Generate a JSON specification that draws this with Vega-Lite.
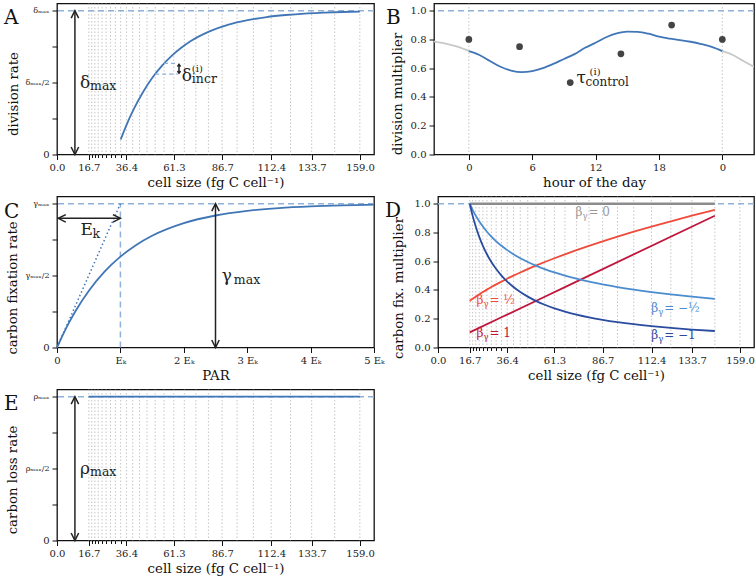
{
"$schema": "https://vega.github.io/schema/vega-lite/v6.json",
"padding": {"left": 3, "top": 1.5, "right": 2, "bottom": 1},
"background": "white",
"config": {
  "font": "DejaVu Serif",
  "view": {"stroke": "#111", "strokeWidth": 1.3},
  "axis": {"domain": false, "grid": false, "labelFlush": false, "tickColor": "#111", "tickSize": 5, "tickWidth": 1, "labelFont": "DejaVu Serif", "labelFontSize": 10, "labelColor": "#222", "labelPadding": 3, "titleFont": "DejaVu Serif", "titleFontSize": 13.3, "titleFontWeight": "normal", "titleColor": "#111", "titlePadding": 3},
  "text": {"font": "DejaVu Serif"}
},
"datasets": {
  "grid": [{"x":16.7},{"x":18.21},{"x":19.86},{"x":21.66},{"x":23.62},{"x":25.75},{"x":28.09},{"x":30.63},{"x":33.4},{"x":36.42},{"x":39.72},{"x":43.31},{"x":47.23},{"x":51.51},{"x":56.17},{"x":61.26},{"x":66.8},{"x":72.85},{"x":79.44},{"x":86.63},{"x":94.47},{"x":103.02},{"x":112.34},{"x":122.51},{"x":133.6},{"x":145.69},{"x":158.88}],
  "divrate": [{"x":33.4,"y":0.104},{"x":36,"y":0.191},{"x":40,"y":0.308},{"x":45,"y":0.431},{"x":50,"y":0.533},{"x":55,"y":0.616},{"x":60,"y":0.684},{"x":65,"y":0.74},{"x":70,"y":0.787},{"x":80,"y":0.856},{"x":90,"y":0.903},{"x":100,"y":0.934},{"x":110,"y":0.956},{"x":120,"y":0.97},{"x":130,"y":0.98},{"x":140,"y":0.986},{"x":150,"y":0.991},{"x":158.88,"y":0.994}],
  "bline": [{"x":0,"y":0.719},{"x":1,"y":0.692},{"x":2,"y":0.65},{"x":3,"y":0.61},{"x":4,"y":0.584},{"x":5,"y":0.573},{"x":6,"y":0.58},{"x":7,"y":0.6},{"x":8,"y":0.63},{"x":9,"y":0.664},{"x":10,"y":0.698},{"x":11,"y":0.742},{"x":12,"y":0.777},{"x":13,"y":0.815},{"x":14,"y":0.842},{"x":15,"y":0.855},{"x":16,"y":0.853},{"x":17,"y":0.84},{"x":18,"y":0.819},{"x":19,"y":0.806},{"x":20,"y":0.796},{"x":21,"y":0.784},{"x":22,"y":0.768},{"x":23,"y":0.748},{"x":24,"y":0.719}],
  "bgray": [{"x":-3.5,"y":0.789,"seg":"a"},{"x":-3,"y":0.782,"seg":"a"},{"x":-2,"y":0.768,"seg":"a"},{"x":-1,"y":0.748,"seg":"a"},{"x":0,"y":0.719,"seg":"a"},{"x":24,"y":0.719,"seg":"b"},{"x":25,"y":0.692,"seg":"b"},{"x":26,"y":0.65,"seg":"b"},{"x":27,"y":0.61,"seg":"b"},{"x":27.3,"y":0.6,"seg":"b"}],
  "bpts": [{"x":0,"y":0.8},{"x":4.8,"y":0.75},{"x":9.6,"y":0.5},{"x":14.4,"y":0.7},{"x":19.2,"y":0.9},{"x":24,"y":0.8}],
  "ccurve": [{"x":0,"y":0},{"x":0.1,"y":0.0952},{"x":0.2,"y":0.1813},{"x":0.3,"y":0.2592},{"x":0.5,"y":0.3935},{"x":0.75,"y":0.5276},{"x":1,"y":0.6321},{"x":1.25,"y":0.7135},{"x":1.5,"y":0.7769},{"x":2,"y":0.8647},{"x":2.5,"y":0.9179},{"x":3,"y":0.9502},{"x":3.5,"y":0.9698},{"x":4,"y":0.9817},{"x":4.5,"y":0.9889},{"x":5,"y":0.9933}],
  "betas": [
    {"s":"1","x":16.7,"y":0.105},{"s":"1","x":33.4,"y":0.2101},{"s":"1","x":66.8,"y":0.4201},{"s":"1","x":145.69,"y":0.9163},
    {"s":"0.5","x":16.7,"y":0.324},{"s":"0.5","x":18.21,"y":0.3383},{"s":"0.5","x":19.86,"y":0.3533},{"s":"0.5","x":21.66,"y":0.369},{"s":"0.5","x":23.62,"y":0.3853},{"s":"0.5","x":25.75,"y":0.4024},{"s":"0.5","x":28.09,"y":0.4202},{"s":"0.5","x":30.63,"y":0.4388},{"s":"0.5","x":33.4,"y":0.4582},{"s":"0.5","x":36.42,"y":0.4785},{"s":"0.5","x":39.72,"y":0.4997},{"s":"0.5","x":43.31,"y":0.5219},{"s":"0.5","x":47.23,"y":0.545},{"s":"0.5","x":51.51,"y":0.5691},{"s":"0.5","x":56.17,"y":0.5943},{"s":"0.5","x":61.26,"y":0.6207},{"s":"0.5","x":66.8,"y":0.6482},{"s":"0.5","x":72.85,"y":0.6769},{"s":"0.5","x":79.44,"y":0.7068},{"s":"0.5","x":86.63,"y":0.7381},{"s":"0.5","x":94.47,"y":0.7708},{"s":"0.5","x":103.02,"y":0.805},{"s":"0.5","x":112.34,"y":0.8406},{"s":"0.5","x":122.51,"y":0.8778},{"s":"0.5","x":133.6,"y":0.9167},{"s":"0.5","x":145.69,"y":0.9573},
    {"s":"-0.5","x":16.7,"y":1},{"s":"-0.5","x":18.21,"y":0.9576},{"s":"-0.5","x":19.86,"y":0.917},{"s":"-0.5","x":21.66,"y":0.8781},{"s":"-0.5","x":23.62,"y":0.8409},{"s":"-0.5","x":25.75,"y":0.8052},{"s":"-0.5","x":28.09,"y":0.7711},{"s":"-0.5","x":30.63,"y":0.7384},{"s":"-0.5","x":33.4,"y":0.7071},{"s":"-0.5","x":36.42,"y":0.6771},{"s":"-0.5","x":39.72,"y":0.6484},{"s":"-0.5","x":43.31,"y":0.6209},{"s":"-0.5","x":47.23,"y":0.5946},{"s":"-0.5","x":51.51,"y":0.5694},{"s":"-0.5","x":56.17,"y":0.5453},{"s":"-0.5","x":61.26,"y":0.5221},{"s":"-0.5","x":66.8,"y":0.5},{"s":"-0.5","x":72.85,"y":0.4788},{"s":"-0.5","x":79.44,"y":0.4585},{"s":"-0.5","x":86.63,"y":0.4391},{"s":"-0.5","x":94.47,"y":0.4204},{"s":"-0.5","x":103.02,"y":0.4026},{"s":"-0.5","x":112.34,"y":0.3855},{"s":"-0.5","x":122.51,"y":0.3692},{"s":"-0.5","x":133.6,"y":0.3536},{"s":"-0.5","x":145.69,"y":0.3386},
    {"s":"-1","x":16.7,"y":1},{"s":"-1","x":18.21,"y":0.917},{"s":"-1","x":19.86,"y":0.8409},{"s":"-1","x":21.66,"y":0.7711},{"s":"-1","x":23.62,"y":0.7071},{"s":"-1","x":25.75,"y":0.6484},{"s":"-1","x":28.09,"y":0.5946},{"s":"-1","x":30.63,"y":0.5453},{"s":"-1","x":33.4,"y":0.5},{"s":"-1","x":36.42,"y":0.4585},{"s":"-1","x":39.72,"y":0.4204},{"s":"-1","x":43.31,"y":0.3855},{"s":"-1","x":47.23,"y":0.3536},{"s":"-1","x":51.51,"y":0.3242},{"s":"-1","x":56.17,"y":0.2973},{"s":"-1","x":61.26,"y":0.2726},{"s":"-1","x":66.8,"y":0.25},{"s":"-1","x":72.85,"y":0.2293},{"s":"-1","x":79.44,"y":0.2102},{"s":"-1","x":86.63,"y":0.1928},{"s":"-1","x":94.47,"y":0.1768},{"s":"-1","x":103.02,"y":0.1621},{"s":"-1","x":112.34,"y":0.1487},{"s":"-1","x":122.51,"y":0.1363},{"s":"-1","x":133.6,"y":0.125},{"s":"-1","x":145.69,"y":0.1146}
  ],
  "blabels": [{"x":72.3,"y":0.915,"s":"0","r":"= 0"},{"x":20.2,"y":0.3,"s":"0.5","r":"= ½"},{"x":20.2,"y":0.07,"s":"1","r":"= 1"},{"x":112.2,"y":0.25,"s":"-0.5","r":"= −½"},{"x":112.2,"y":0.058,"s":"-1","r":"= −1"}]
},
"spacing": 5,
"vconcat": [
{"hconcat": [
 {"width": 317, "height": 151,
  "title": {"text": "A", "anchor": "start", "frame": "group", "dx": -53, "offset": -25, "baseline": "top", "fontSize": 20, "fontWeight": "normal", "color": "#111"},
  "layer": [
   {"data": {"name": "grid"}, "mark": {"type": "rule", "color": "#b8b8b8", "strokeWidth": 0.8, "strokeDash": [1.5, 2]},
    "encoding": {"x": {"field": "x", "type": "quantitative", "scale": {"domain": [0, 166.3], "nice": false, "zero": false},
      "axis": {"title": "cell size (fg C cell⁻¹)", "tickCount": 60, "values": [0,16.7,18.21,19.86,21.66,23.62,25.75,28.09,30.63,33.4,36.4,61.3,86.7,112.4,133.7,159], "labelExpr": "datum.value > 17 && datum.value < 34 ? '' : format(datum.value, '.1f')", "labelOverlap": false, "tickSize": {"condition": {"test": "datum.value > 17 && datum.value < 34", "value": 3}, "value": 5}}}}},
   {"data": {"values": [{"y": 1}]}, "mark": {"type": "rule", "color": "#8fb1da", "strokeWidth": 1.5, "strokeDash": [6, 4]},
    "encoding": {"y": {"field": "y", "type": "quantitative", "scale": {"domain": [0, 1.05], "nice": false},
      "axis": {"title": "division rate", "tickCount": 60, "labelOverlap": false, "values": [0, 0.25, 0.5, 0.75, 1], "labelExpr": "datum.value == 1 ? 'δₘₐₓ' : datum.value == 0.5 ? 'δₘₐₓ/2' : datum.value == 0 ? '0' : ''", "labelFontSize": {"condition": {"test": "datum.value == 0", "value": 10}, "value": 8}, "titleX": -44, "titleY": 90, "titleBaseline": "middle", "titleAlign": "center", "titleAngle": -90}}}},
   {"data": {"name": "divrate"}, "mark": {"type": "line", "color": "#4176b6", "strokeWidth": 1.8, "interpolate": "monotone"},
    "encoding": {"x": {"field": "x", "type": "quantitative"}, "y": {"field": "y", "type": "quantitative"}}},
   {"data": {"values": [{"x": 51.51, "y": 0.559, "x2": 63.3}, {"x": 56.17, "y": 0.633, "x2": 63.3}]}, "mark": {"type": "rule", "color": "#8fb1da", "strokeWidth": 1.3, "strokeDash": [4, 3]},
    "encoding": {"x": {"field": "x", "type": "quantitative"}, "x2": {"field": "x2"}, "y": {"field": "y", "type": "quantitative"}}},
   {"data": {"values": [{"x": 9.4, "y": 0, "y2": 1}, {"x": 64, "y": 0.567, "y2": 0.625}]}, "mark": {"type": "rule", "color": "#222", "strokeWidth": 1.5},
    "encoding": {"x": {"field": "x", "type": "quantitative"}, "y": {"field": "y", "type": "quantitative"}, "y2": {"field": "y2"}}},
   {"data": {"values": [{"x": 9.4, "y": 1}]}, "mark": {"type": "point", "shape": "M-0.5,1L0,0L0.5,1", "size": 225, "filled": false, "color": "#222", "strokeWidth": 1.5, "opacity": 1},
    "encoding": {"x": {"field": "x", "type": "quantitative"}, "y": {"field": "y", "type": "quantitative"}}},
   {"data": {"values": [{"x": 9.4, "y": 0}]}, "mark": {"type": "point", "shape": "M-0.5,-1L0,0L0.5,-1", "size": 225, "filled": false, "color": "#222", "strokeWidth": 1.5, "opacity": 1},
    "encoding": {"x": {"field": "x", "type": "quantitative"}, "y": {"field": "y", "type": "quantitative"}}},
   {"data": {"values": [{"x": 64, "y": 0.627}]}, "mark": {"type": "point", "shape": "M-0.7,1L0,0L0.7,1", "size": 20, "filled": false, "color": "#222", "strokeWidth": 1.5, "opacity": 1},
    "encoding": {"x": {"field": "x", "type": "quantitative"}, "y": {"field": "y", "type": "quantitative"}}},
   {"data": {"values": [{"x": 64, "y": 0.565}]}, "mark": {"type": "point", "shape": "M-0.7,-1L0,0L0.7,-1", "size": 20, "filled": false, "color": "#222", "strokeWidth": 1.5, "opacity": 1},
    "encoding": {"x": {"field": "x", "type": "quantitative"}, "y": {"field": "y", "type": "quantitative"}}},
   {"data": {"values": [{"x": 12.1, "y": 0.46, "t": "δ"}, {"x": 65.5, "y": 0.508, "t": "δ"}]}, "mark": {"type": "text", "align": "left", "baseline": "alphabetic", "fontSize": 17, "color": "#222"},
    "encoding": {"x": {"field": "x", "type": "quantitative"}, "y": {"field": "y", "type": "quantitative"}, "text": {"field": "t"}}},
   {"data": {"values": [{"x": 12.1, "y": 0.46, "t": "max"}, {"x": 65.5, "y": 0.508, "t": "incr"}]}, "mark": {"type": "text", "align": "left", "baseline": "alphabetic", "fontSize": 12.5, "dx": 10, "dy": 2, "color": "#222"},
    "encoding": {"x": {"field": "x", "type": "quantitative"}, "y": {"field": "y", "type": "quantitative"}, "text": {"field": "t"}}},
   {"data": {"values": [{"x": 65.5, "y": 0.508, "t": "(i)"}]}, "mark": {"type": "text", "align": "left", "baseline": "alphabetic", "fontSize": 10, "dx": 10, "dy": -9, "color": "#222"},
    "encoding": {"x": {"field": "x", "type": "quantitative"}, "y": {"field": "y", "type": "quantitative"}, "text": {"field": "t"}}}
  ]},
 {"width": 320, "height": 151,
  "title": {"text": "B", "anchor": "start", "frame": "group", "dx": -48, "offset": -25, "baseline": "top", "fontSize": 20, "fontWeight": "normal", "color": "#111"},
  "layer": [
   {"data": {"values": [{"x": 0}, {"x": 24}]}, "mark": {"type": "rule", "color": "#b8b8b8", "strokeWidth": 0.8, "strokeDash": [1.5, 2]},
    "encoding": {"x": {"field": "x", "type": "quantitative", "scale": {"domain": [-3.3, 27], "nice": false, "zero": false},
      "axis": {"title": "hour of the day", "tickCount": 60, "labelOverlap": false, "values": [0, 6, 12, 18, 24], "format": "d", "labelExpr": "datum.value == 24 ? '0' : format(datum.value, 'd')"}}}},
   {"data": {"values": [{"y": 1}]}, "mark": {"type": "rule", "color": "#8fb1da", "strokeWidth": 1.5, "strokeDash": [6, 4]},
    "encoding": {"y": {"field": "y", "type": "quantitative", "scale": {"domain": [0, 1.05], "nice": false},
      "axis": {"title": "division multiplier", "tickCount": 60, "labelOverlap": false, "values": [0, 0.2, 0.4, 0.6, 0.8, 1], "format": ".1f", "titleX": -37, "titleY": 90, "titleBaseline": "middle", "titleAlign": "center", "titleAngle": -90}}}},
   {"data": {"name": "bgray"}, "mark": {"type": "line", "color": "#c8c8c8", "strokeWidth": 1.8, "interpolate": "monotone", "clip": true},
    "encoding": {"x": {"field": "x", "type": "quantitative"}, "y": {"field": "y", "type": "quantitative"}, "detail": {"field": "seg"}}},
   {"data": {"name": "bline"}, "mark": {"type": "line", "color": "#4176b6", "strokeWidth": 1.8, "interpolate": "monotone"},
    "encoding": {"x": {"field": "x", "type": "quantitative"}, "y": {"field": "y", "type": "quantitative"}}},
   {"data": {"name": "bpts"}, "mark": {"type": "point", "filled": true, "color": "#444", "size": 45, "opacity": 1},
    "encoding": {"x": {"field": "x", "type": "quantitative"}, "y": {"field": "y", "type": "quantitative"}}},
   {"data": {"values": [{"x": 10.2, "y": 0.495, "t": "τ"}]}, "mark": {"type": "text", "align": "left", "baseline": "alphabetic", "fontSize": 17, "color": "#222"},
    "encoding": {"x": {"field": "x", "type": "quantitative"}, "y": {"field": "y", "type": "quantitative"}, "text": {"field": "t"}}},
   {"data": {"values": [{"x": 10.2, "y": 0.495, "t": "control"}]}, "mark": {"type": "text", "align": "left", "baseline": "alphabetic", "fontSize": 12, "dx": 9, "dy": 3, "color": "#222"},
    "encoding": {"x": {"field": "x", "type": "quantitative"}, "y": {"field": "y", "type": "quantitative"}, "text": {"field": "t"}}},
   {"data": {"values": [{"x": 10.2, "y": 0.495, "t": "(i)"}]}, "mark": {"type": "text", "align": "left", "baseline": "alphabetic", "fontSize": 10, "dx": 13, "dy": -8, "color": "#222"},
    "encoding": {"x": {"field": "x", "type": "quantitative"}, "y": {"field": "y", "type": "quantitative"}, "text": {"field": "t"}}}
  ]}
 ], "spacing": 60, "bounds": "flush"},
{"hconcat": [
 {"width": 317, "height": 151,
  "title": {"text": "C", "anchor": "start", "frame": "group", "dx": -53, "offset": -25, "baseline": "top", "fontSize": 20, "fontWeight": "normal", "color": "#111"},
  "layer": [
   {"data": {"values": [{"x": 1, "y": 0, "y2": 1}]}, "mark": {"type": "rule", "color": "#8fb1da", "strokeWidth": 1.5, "strokeDash": [6, 4]},
    "encoding": {"x": {"field": "x", "type": "quantitative", "scale": {"domain": [0, 5], "nice": false, "zero": false},
      "axis": {"title": "PAR", "tickCount": 60, "labelOverlap": false, "values": [0, 1, 2, 3, 4, 5], "labelExpr": "datum.value == 0 ? '0' : datum.value == 1 ? 'Eₖ' : datum.value + ' Eₖ'"}},
      "y": {"field": "y", "type": "quantitative", "scale": {"domain": [0, 1.05], "nice": false},
      "axis": {"title": "carbon fixation rate", "tickCount": 60, "labelOverlap": false, "values": [0, 0.25, 0.5, 0.75, 1], "labelExpr": "datum.value == 1 ? 'γₘₐₓ' : datum.value == 0.5 ? 'γₘₐₓ/2' : datum.value == 0 ? '0' : ''", "labelFontSize": {"condition": {"test": "datum.value == 0", "value": 10}, "value": 8}, "titleX": -45, "titleY": 91, "titleBaseline": "middle", "titleAlign": "center", "titleAngle": -90}},
      "y2": {"field": "y2"}}},
   {"data": {"values": [{"y": 1}]}, "mark": {"type": "rule", "color": "#8fb1da", "strokeWidth": 1.5, "strokeDash": [6, 4]},
    "encoding": {"y": {"field": "y", "type": "quantitative"}}},
   {"data": {"values": [{"x": 0, "y": 0}, {"x": 1, "y": 1}]}, "mark": {"type": "line", "color": "#4176b6", "strokeWidth": 1.5, "strokeDash": [1.5, 2.5]},
    "encoding": {"x": {"field": "x", "type": "quantitative"}, "y": {"field": "y", "type": "quantitative"}}},
   {"data": {"name": "ccurve"}, "mark": {"type": "line", "color": "#4176b6", "strokeWidth": 1.8, "interpolate": "monotone"},
    "encoding": {"x": {"field": "x", "type": "quantitative"}, "y": {"field": "y", "type": "quantitative"}}},
   {"data": {"values": [{"x": 0.02, "x2": 1, "y": 0.898}]}, "mark": {"type": "rule", "color": "#222", "strokeWidth": 1.5},
    "encoding": {"x": {"field": "x", "type": "quantitative"}, "x2": {"field": "x2"}, "y": {"field": "y", "type": "quantitative"}}},
   {"data": {"values": [{"x": 2.5, "y": 0, "y2": 1}]}, "mark": {"type": "rule", "color": "#222", "strokeWidth": 1.5},
    "encoding": {"x": {"field": "x", "type": "quantitative"}, "y": {"field": "y", "type": "quantitative"}, "y2": {"field": "y2"}}},
   {"data": {"values": [{"x": 0.02, "y": 0.898}]}, "mark": {"type": "point", "shape": "M1,-0.5L0,0L1,0.5", "size": 225, "filled": false, "color": "#222", "strokeWidth": 1.5, "opacity": 1},
    "encoding": {"x": {"field": "x", "type": "quantitative"}, "y": {"field": "y", "type": "quantitative"}}},
   {"data": {"values": [{"x": 1, "y": 0.898}]}, "mark": {"type": "point", "shape": "M-1,-0.5L0,0L-1,0.5", "size": 225, "filled": false, "color": "#222", "strokeWidth": 1.5, "opacity": 1},
    "encoding": {"x": {"field": "x", "type": "quantitative"}, "y": {"field": "y", "type": "quantitative"}}},
   {"data": {"values": [{"x": 2.5, "y": 1}]}, "mark": {"type": "point", "shape": "M-0.5,1L0,0L0.5,1", "size": 225, "filled": false, "color": "#222", "strokeWidth": 1.5, "opacity": 1},
    "encoding": {"x": {"field": "x", "type": "quantitative"}, "y": {"field": "y", "type": "quantitative"}}},
   {"data": {"values": [{"x": 2.5, "y": 0}]}, "mark": {"type": "point", "shape": "M-0.5,-1L0,0L0.5,-1", "size": 225, "filled": false, "color": "#222", "strokeWidth": 1.5, "opacity": 1},
    "encoding": {"x": {"field": "x", "type": "quantitative"}, "y": {"field": "y", "type": "quantitative"}}},
   {"data": {"values": [{"x": 0.37, "y": 0.785, "t": "E"}, {"x": 2.6, "y": 0.46, "t": "γ"}]}, "mark": {"type": "text", "align": "left", "baseline": "alphabetic", "fontSize": 17, "color": "#222"},
    "encoding": {"x": {"field": "x", "type": "quantitative"}, "y": {"field": "y", "type": "quantitative"}, "text": {"field": "t"}}},
   {"data": {"values": [{"x": 0.37, "y": 0.785, "t": "k"}, {"x": 2.6, "y": 0.46, "t": "max"}]}, "mark": {"type": "text", "align": "left", "baseline": "alphabetic", "fontSize": 12.5, "dx": 12, "dy": 3, "color": "#222"},
    "encoding": {"x": {"field": "x", "type": "quantitative"}, "y": {"field": "y", "type": "quantitative"}, "text": {"field": "t"}}}
  ]},
 {"width": 316, "height": 151,
  "title": {"text": "D", "anchor": "start", "frame": "group", "dx": -53, "offset": -25, "baseline": "top", "fontSize": 20, "fontWeight": "normal", "color": "#111"},
  "layer": [
   {"data": {"name": "grid"}, "mark": {"type": "rule", "color": "#b8b8b8", "strokeWidth": 0.8, "strokeDash": [1.5, 2]},
    "encoding": {"x": {"field": "x", "type": "quantitative", "scale": {"domain": [0, 166.3], "nice": false, "zero": false},
      "axis": {"title": "cell size (fg C cell⁻¹)", "tickCount": 60, "values": [0,16.7,18.21,19.86,21.66,23.62,25.75,28.09,30.63,33.4,36.4,61.3,86.7,112.4,133.7,159], "labelExpr": "datum.value > 17 && datum.value < 34 ? '' : format(datum.value, '.1f')", "labelOverlap": false, "tickSize": {"condition": {"test": "datum.value > 17 && datum.value < 34", "value": 3}, "value": 5}}}}},
   {"data": {"values": [{"y": 1}]}, "mark": {"type": "rule", "color": "#8fb1da", "strokeWidth": 1.5, "strokeDash": [6, 4]},
    "encoding": {"y": {"field": "y", "type": "quantitative", "scale": {"domain": [0, 1.05], "nice": false},
      "axis": {"title": "carbon fix. multiplier", "tickCount": 60, "labelOverlap": false, "values": [0, 0.2, 0.4, 0.6, 0.8, 1], "format": ".1f", "titleX": -40, "titleY": 91, "titleBaseline": "middle", "titleAlign": "center", "titleAngle": -90}}}},
   {"data": {"values": [{"x": 16.7, "y": 1}, {"x": 145.69, "y": 1}]}, "mark": {"type": "line", "color": "#8c8c8c", "strokeWidth": 2.5},
    "encoding": {"x": {"field": "x", "type": "quantitative"}, "y": {"field": "y", "type": "quantitative"}}},
   {"data": {"name": "betas"}, "mark": {"type": "line", "strokeWidth": 1.8, "interpolate": "monotone"},
    "encoding": {"x": {"field": "x", "type": "quantitative"}, "y": {"field": "y", "type": "quantitative"},
      "color": {"field": "s", "type": "nominal", "scale": {"domain": ["1", "0.5", "0", "-0.5", "-1"], "range": ["#c0163b", "#ef4b3b", "#9a9a9a", "#4a8ccf", "#2b4ba0"]}, "legend": null}}},
   {"data": {"name": "blabels"}, "mark": {"type": "text", "align": "left", "baseline": "alphabetic", "fontSize": 12, "text": "β"},
    "encoding": {"x": {"field": "x", "type": "quantitative"}, "y": {"field": "y", "type": "quantitative"}, "color": {"field": "s", "type": "nominal"}}},
   {"data": {"name": "blabels"}, "mark": {"type": "text", "align": "left", "baseline": "alphabetic", "fontSize": 8.5, "dx": 7, "dy": 3, "text": "γ"},
    "encoding": {"x": {"field": "x", "type": "quantitative"}, "y": {"field": "y", "type": "quantitative"}, "color": {"field": "s", "type": "nominal"}}},
   {"data": {"name": "blabels"}, "mark": {"type": "text", "align": "left", "baseline": "alphabetic", "fontSize": 12, "dx": 13},
    "encoding": {"x": {"field": "x", "type": "quantitative"}, "y": {"field": "y", "type": "quantitative"}, "color": {"field": "s", "type": "nominal"}, "text": {"field": "r"}}}
  ]}
 ], "spacing": 64, "bounds": "flush"},
 {"width": 317, "height": 151,
  "title": {"text": "E", "anchor": "start", "frame": "group", "dx": -53, "offset": -25, "baseline": "top", "fontSize": 20, "fontWeight": "normal", "color": "#111"},
  "layer": [
   {"data": {"name": "grid"}, "mark": {"type": "rule", "color": "#b8b8b8", "strokeWidth": 0.8, "strokeDash": [1.5, 2]},
    "encoding": {"x": {"field": "x", "type": "quantitative", "scale": {"domain": [0, 166.3], "nice": false, "zero": false},
      "axis": {"title": "cell size (fg C cell⁻¹)", "tickCount": 60, "values": [0,16.7,18.21,19.86,21.66,23.62,25.75,28.09,30.63,33.4,36.4,61.3,86.7,112.4,133.7,159], "labelExpr": "datum.value > 17 && datum.value < 34 ? '' : format(datum.value, '.1f')", "labelOverlap": false, "tickSize": {"condition": {"test": "datum.value > 17 && datum.value < 34", "value": 3}, "value": 5}}}}},
   {"data": {"values": [{"y": 1}]}, "mark": {"type": "rule", "color": "#8fb1da", "strokeWidth": 1.5, "strokeDash": [6, 4]},
    "encoding": {"y": {"field": "y", "type": "quantitative", "scale": {"domain": [0, 1.05], "nice": false},
      "axis": {"title": "carbon loss rate", "tickCount": 60, "labelOverlap": false, "values": [0, 0.25, 0.5, 0.75, 1], "labelExpr": "datum.value == 1 ? 'ρₘₐₓ' : datum.value == 0.5 ? 'ρₘₐₓ/2' : datum.value == 0 ? '0' : ''", "labelFontSize": {"condition": {"test": "datum.value == 0", "value": 10}, "value": 8}, "titleX": -45, "titleY": 90, "titleBaseline": "middle", "titleAlign": "center", "titleAngle": -90}}}},
   {"data": {"values": [{"x": 16.7, "y": 1}, {"x": 158.88, "y": 1}]}, "mark": {"type": "line", "color": "#4176b6", "strokeWidth": 1.8},
    "encoding": {"x": {"field": "x", "type": "quantitative"}, "y": {"field": "y", "type": "quantitative"}}},
   {"data": {"values": [{"x": 9.4, "y": 0, "y2": 1}]}, "mark": {"type": "rule", "color": "#222", "strokeWidth": 1.5},
    "encoding": {"x": {"field": "x", "type": "quantitative"}, "y": {"field": "y", "type": "quantitative"}, "y2": {"field": "y2"}}},
   {"data": {"values": [{"x": 9.4, "y": 1}]}, "mark": {"type": "point", "shape": "M-0.5,1L0,0L0.5,1", "size": 225, "filled": false, "color": "#222", "strokeWidth": 1.5, "opacity": 1},
    "encoding": {"x": {"field": "x", "type": "quantitative"}, "y": {"field": "y", "type": "quantitative"}}},
   {"data": {"values": [{"x": 9.4, "y": 0}]}, "mark": {"type": "point", "shape": "M-0.5,-1L0,0L0.5,-1", "size": 225, "filled": false, "color": "#222", "strokeWidth": 1.5, "opacity": 1},
    "encoding": {"x": {"field": "x", "type": "quantitative"}, "y": {"field": "y", "type": "quantitative"}}},
   {"data": {"values": [{"x": 12.1, "y": 0.465, "t": "ρ"}]}, "mark": {"type": "text", "align": "left", "baseline": "alphabetic", "fontSize": 17, "color": "#222"},
    "encoding": {"x": {"field": "x", "type": "quantitative"}, "y": {"field": "y", "type": "quantitative"}, "text": {"field": "t"}}},
   {"data": {"values": [{"x": 12.1, "y": 0.465, "t": "max"}]}, "mark": {"type": "text", "align": "left", "baseline": "alphabetic", "fontSize": 12.5, "dx": 10, "dy": 2, "color": "#222"},
    "encoding": {"x": {"field": "x", "type": "quantitative"}, "y": {"field": "y", "type": "quantitative"}, "text": {"field": "t"}}}
  ]}
]
}
